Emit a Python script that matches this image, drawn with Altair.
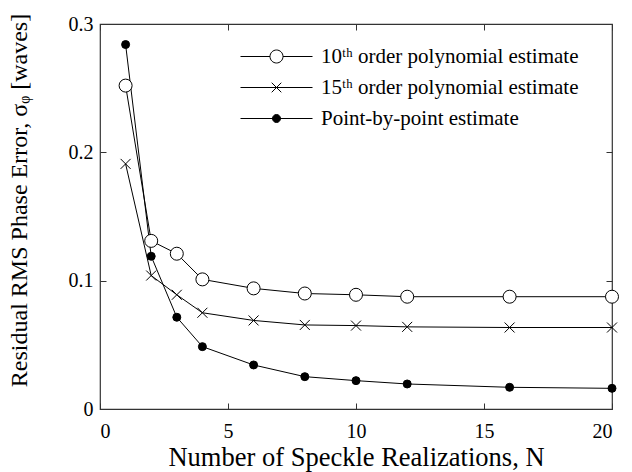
import altair as alt
import pandas as pd

# ---- data ----
N = [1, 2, 3, 4, 6, 8, 10, 12, 16, 20]
poly10 = [0.252, 0.131, 0.121, 0.101, 0.094, 0.090, 0.089, 0.0875, 0.0875, 0.0875]
poly15 = [0.191, 0.104, 0.089, 0.075, 0.069, 0.0655, 0.065, 0.064, 0.0635, 0.0635]
pbp = [0.284, 0.119, 0.0715, 0.0486, 0.0343, 0.0252, 0.0221, 0.0195, 0.0169, 0.0161]

series_names = ["poly10", "poly15", "pbp"]
legend_labels = [
    "10\u1d57\u02b0 order polynomial estimate",
    "15\u1d57\u02b0 order polynomial estimate",
    "Point-by-point estimate",
]
x_ticks = [0, 5, 10, 15, 20]
y_ticks = [0, 0.1, 0.2, 0.3]

rows = []
for name, vals in zip(series_names, [poly10, poly15, pbp]):
    for n, v in zip(N, vals):
        rows.append({"N": n, "value": v, "series": name})
df = pd.DataFrame(rows)

W, H = 512, 385
FONT = "Liberation Serif"

x_enc = alt.X(
    "N:Q",
    scale=alt.Scale(domain=[0, 20], nice=False, zero=False),
    axis=alt.Axis(
        values=x_ticks,
        title="Number of Speckle Realizations, N",
        titleFontSize=26.5,
        titleFontWeight="normal",
        titleFont=FONT,
        titleColor="black",
        titleBaseline="alphabetic",
        titleY=56,
        labelFont=FONT,
        labelFontSize=20,
        labelColor="black",
        labelPadding=12,
        ticks=False,
        tickSize=0,
        domain=False,
        grid=True,
        gridColor="#333333",
        gridWidth=1,
        gridDash=[6, H - 12, 6, 2000],
        gridOpacity=1,
    ),
)
y_enc = alt.Y(
    "value:Q",
    scale=alt.Scale(domain=[0, 0.3], nice=False, zero=False),
    axis=alt.Axis(
        values=y_ticks,
        format="~g",
        title="Residual RMS Phase Error, \u03c3\u1d69 [waves]",
        titleFontSize=24,
        titleFontWeight="normal",
        titleFont=FONT,
        titleColor="black",
        titleAngle=270,
        titleAlign="center",
        titleBaseline="alphabetic",
        titleX=-74,
        titleY=176,
        labelFont=FONT,
        labelFontSize=20,
        labelColor="black",
        labelPadding=7,
        ticks=False,
        tickSize=0,
        domain=False,
        grid=True,
        gridColor="#333333",
        gridWidth=1,
        gridDash=[6, W - 12, 6, 2000],
        gridOpacity=1,
    ),
)

base = alt.Chart(df)

lines = base.mark_line(color="black", strokeWidth=1).encode(
    x=x_enc, y=y_enc, detail="series:N"
)

marker_specs = [
    ("poly10", "circle", 169, "white"),
    ("poly15", "M-1,-1L1,1M-1,1L1,-1", 100, "white"),
    ("pbp", "circle", 64, "black"),
]
point_layers = []
for name, shp, sz, fl in marker_specs:
    point_layers.append(
        base.transform_filter(alt.datum.series == name)
        .mark_point(
            shape=shp, size=sz, fill=fl, filled=False, stroke="black",
            strokeWidth=1, opacity=1,
        )
        .encode(x="N:Q", y="value:Q")
    )

# legend symbols: line + marker, as custom paths
legend_paths = [
    "M-3.6,0L-0.65,0M0.65,0L3.6,0M0.65,0A0.65,0.65,0,1,1,-0.65,0A0.65,0.65,0,1,1,0.65,0Z",
    "M-3.6,0L3.6,0M-0.48,-0.48L0.48,0.48M-0.48,0.48L0.48,-0.48",
    "M-3.6,0L3.6,0M0.4,0A0.4,0.4,0,1,1,-0.4,0A0.4,0.4,0,1,1,0.4,0Z",
]
legend_fills = ["white", "white", "black"]
legend_strokes = ["black", "black", "black"]

leg = alt.Legend(
    title=None,
    orient="none",
    legendX=166,
    legendY=22,
    padding=0,
    rowPadding=9,
    labelFont=FONT,
    labelFontSize=21,
    labelColor="black",
    labelOffset=34,
    symbolSize=400,
    symbolStrokeColor="black",
    symbolStrokeWidth=1,
    symbolOpacity=1,
    labelLimit=400,
)

legend_df = pd.DataFrame({"label": legend_labels})
legend_layer = (
    alt.Chart(legend_df)
    .transform_filter("false")
    .mark_point(filled=False, strokeWidth=1, size=400, opacity=1)
    .encode(
        shape=alt.Shape(
            "label:N",
            scale=alt.Scale(domain=legend_labels, range=legend_paths),
            legend=leg,
        ),
        fill=alt.Fill(
            "label:N",
            scale=alt.Scale(domain=legend_labels, range=legend_fills),
            legend=leg,
        ),
        stroke=alt.Stroke(
            "label:N",
            scale=alt.Scale(domain=legend_labels, range=legend_strokes),
            legend=leg,
        ),
    )
)

chart = (
    alt.layer(lines, *point_layers, legend_layer)
    .properties(
        width=W,
        height=H,
        autosize=alt.AutoSizeParams(type="none"),
        padding={"left": 100, "top": 24, "right": 20, "bottom": 63},
        background="white",
    )
    .configure_view(stroke="#333333", strokeWidth=1.2)
)

chart.save("out.html", embed_options={"renderer": "svg", "actions": False})
